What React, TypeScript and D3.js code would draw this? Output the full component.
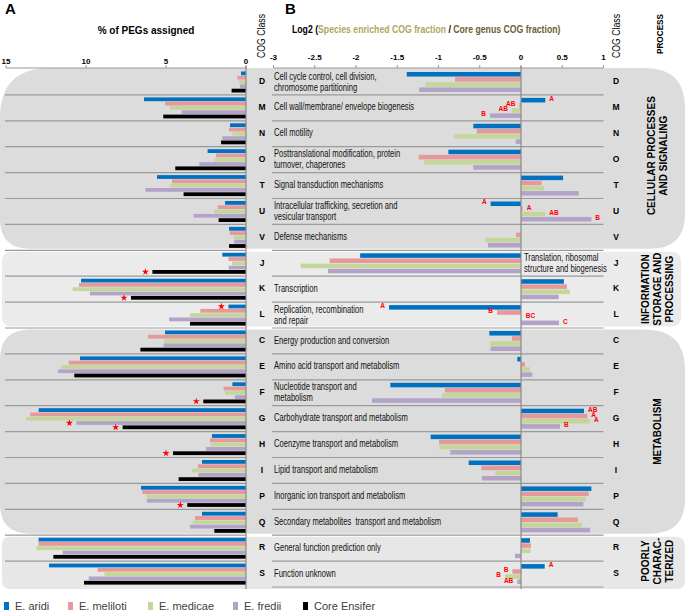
import React from "react";
import * as d3 from "d3";

const classes = ["D","M","N","O","T","U","V","J","K","L","C","E","F","G","H","I","P","Q","R","S"];
const descriptions: string[][] = [
  ["Cell cycle control, cell division,", "chromosome partitioning"],
  ["Cell wall/membrane/ envelope biogenesis"],
  ["Cell motility"],
  ["Posttranslational modification, protein", "turnover, chaperones"],
  ["Signal transduction mechanisms"],
  ["Intracellular trafficking, secretion and", "vesicular transport"],
  ["Defense mechanisms"],
  ["Translation, ribosomal", "structure and biogenesis"],
  ["Transcription"],
  ["Replication, recombination", "and repair"],
  ["Energy production and conversion"],
  ["Amino acid transport and metabolism"],
  ["Nucleotide transport and", "metabolism"],
  ["Carbohydrate transport and metabolism"],
  ["Coenzyme transport and metabolism"],
  ["Lipid transport and metabolism"],
  ["Inorganic ion transport and metabolism"],
  ["Secondary metabolites  transport and metabolism"],
  ["General function prediction only"],
  ["Function unknown"],
];
const seriesNames = ["E. aridi", "E. meliloti", "E. medicae", "E. fredii", "Core Ensifer"];
const seriesColors = ["#0070c0", "#e6999a", "#c4d79b", "#b4a3c9", "#000000"];

// Panel A: % of PEGs assigned
const pegAridi =    [0.31, 6.375, 1.0, 2.4, 5.56, 1.31, 1.06, 1.48, 10.31, 1.1, 5.06, 10.375, 0.85, 12.96, 2.125, 2.75, 6.56, 2.75, 12.96, 12.31];
const pegMeliloti = [0.54, 5.06, 1.06, 1.875, 4.625, 1.77, 1.0, 1.1, 10.44, 2.85, 6.125, 11.08, 1.4, 13.48, 2.25, 3.0, 6.48, 3.19, 12.96, 9.27];
const pegMedicae =  [0.42, 4.75, 0.85, 1.94, 4.73, 2.0, 0.75, 0.875, 10.83, 3.5, 5.1, 11.56, 1.31, 13.75, 2.21, 3.375, 6.21, 3.33, 13.1, 8.85];
const pegFredii =   [0.375, 4.02, 1.48, 2.92, 6.29, 3.27, 0.73, 1.08, 9.75, 4.81, 5.15, 11.75, 0.69, 10.6, 2.5, 2.98, 6.19, 3.5, 11.46, 9.83];
const pegCore =     [0.9, 5.17, 1.56, 4.42, 3.9, 1.71, 1.06, 5.85, 7.19, 3.5, 6.6, 10.73, 2.67, 7.71, 4.56, 4.21, 3.67, 1.98, 12.04, 10.125];

// Panel B: log2 ratios
const log2Aridi =    [-1.385, 0.295, -0.578, -0.88, 0.51, -0.368, 0, -1.95, 0.52, -1.6, -0.384, -0.045, -1.584, 0.764, -1.095, -0.634, 0.853, 0.444, 0.109, 0.287];
const log2Meliloti = [-0.8, -0.02, -0.537, -1.24, 0.25, 0.02, -0.06, -2.32, 0.557, -0.29, -0.109, 0.048, -0.921, 0.804, -0.994, -0.481, 0.82, 0.69, 0.121, -0.105];
const log2Medicae =  [-1.16, -0.11, -0.81, -1.175, 0.28, 0.295, -0.43, -2.67, 0.594, 0.01, -0.376, 0.109, -0.958, 0.836, -0.99, -0.311, 0.784, 0.74, 0.117, -0.194];
const log2Fredii =   [-1.236, -0.375, -0.065, -0.578, 0.7, 0.853, -0.4, -2.34, 0.457, 0.46, -0.368, 0.137, -1.806, 0.473, -0.857, -0.473, 0.756, 0.836, -0.073, -0.045];

const ticksA = [15, 10, 5, 0];
const ticksB = [-3, -2.5, -2, -1.5, -1, -0.5, 0, 0.5, 1];
const tickLabelsB = ["-3", "-2.5", "-2", "-1.5", "-1", "-0.5", "0", "0.5", "1"];

// significance asterisks in panel A: [class, series index]
const asterisks: [string, number][] = [["J", 4], ["K", 4], ["L", 0], ["F", 4], ["G", 3], ["G", 4], ["H", 4], ["P", 4]];
// group letters in panel B: [class, series index, letter]
const groupLetters: [string, number, string][] = [
  ["M", 0, "A"], ["M", 1, "AB"], ["M", 2, "AB"], ["M", 3, "B"],
  ["U", 0, "A"], ["U", 1, "A"], ["U", 2, "AB"], ["U", 3, "B"],
  ["L", 0, "A"], ["L", 1, "B"], ["L", 2, "BC"], ["L", 3, "C"],
  ["G", 0, "AB"], ["G", 1, "A"], ["G", 2, "A"], ["G", 3, "B"],
  ["S", 0, "A"], ["S", 1, "B"], ["S", 2, "B"], ["S", 3, "AB"],
];
const processNames = [["CELLULAR PROCESSES", "AND SIGNALING"], ["INFORMATION", "STORAGE AND", "PROCESSING"], ["METABOLISM"], ["POORLY", "CHARAC-", "TERIZED"]];
const processFirst = ["D", "J", "C", "R"];
const processLast = ["V", "L", "Q", "S"];

const pegSeries = [pegAridi, pegMeliloti, pegMedicae, pegFredii, pegCore];
const log2Series = [log2Aridi, log2Meliloti, log2Medicae, log2Fredii];

function rrect(x: number, y: number, w: number, h: number, tl: number, tr: number, br: number, bl: number) {
  return `M${x + tl},${y} H${x + w - tr} Q${x + w},${y} ${x + w},${y + tr} V${y + h - br} Q${x + w},${y + h} ${x + w - br},${y + h} H${x + bl} Q${x},${y + h} ${x},${y + h - bl} V${y + tl} Q${x},${y} ${x + tl},${y} Z`;
}

const FONT = "'Liberation Sans', Arial, sans-serif";

export default function App() {
  const W = 685, H = 611;
  const xA = d3.scaleLinear().domain([0, 15]).range([246, 6]);
  const xB = d3.scaleLinear().domain([-3, 1]).range([273.5, 603.5]);
  const yRow = d3.scaleBand<string>().domain(classes).range([69, 587]);
  const bw = yRow.bandwidth();
  const yA = d3.scaleBand<number>().domain(d3.range(5)).range([2.5, 23.5]).paddingInner(0.12);
  const yB = d3.scaleBand<number>().domain(d3.range(4)).range([3, 23]).paddingInner(0.12);
  const star = d3.symbol().type(d3.symbolStar).size(15)();

  const boxStyles = [
    { fill: "#dcdcdc", r: [50, 40, 35, 30], x0: 0, x1: 685 },
    { fill: "#ebebeb", r: [10, 10, 10, 10], x0: 2, x1: 681 },
    { fill: "#dcdcdc", r: [30, 40, 35, 30], x0: 0, x1: 685 },
    { fill: "#e7e7e7", r: [8, 10, 8, 8], x0: 2, x1: 685 },
  ];

  return (
    <svg width={W} height={H} style={{ position: "absolute", left: 0, top: 0, background: "#fff" }} fontFamily={FONT}>
      {/* process boxes */}
      {processFirst.map((f, i) => {
        const top = (yRow(f) as number) + (i === 0 ? -1 : 1.5);
        const bot = (yRow(processLast[i]) as number) + bw + (i === 3 ? 2 : -1.5);
        const s = boxStyles[i];
        return <path key={"box" + i} d={rrect(s.x0, top, s.x1 - s.x0, bot - top, s.r[0], s.r[1], s.r[2], s.r[3])} fill={s.fill} />;
      })}

      {/* separators */}
      {classes.slice(1).map((c) => (
        <g key={"sep" + c}>
          <line x1={5} x2={246} y1={yRow(c)} y2={yRow(c)} stroke="#9a9a9a" strokeWidth={1.2} />
          <line x1={272} x2={603.5} y1={yRow(c)} y2={yRow(c)} stroke="#9a9a9a" strokeWidth={1.2} />
        </g>
      ))}
      <line x1={272} x2={603.5} y1={587} y2={587} stroke="#9a9a9a" strokeWidth={1.2} />

      {/* panel A bars */}
      {pegSeries.map((arr, s) =>
        arr.map((v, i) => (
          <rect key={`a${s}-${i}`} x={xA(v)} width={xA(0) - xA(v)} y={(yRow(classes[i]) as number) + (yA(s) as number)} height={yA.bandwidth()} fill={seriesColors[s]} />
        ))
      )}
      {/* panel B bars */}
      {log2Series.map((arr, s) =>
        arr.map((v, i) => (
          <rect key={`b${s}-${i}`} x={Math.min(xB(0), xB(v))} width={Math.abs(xB(v) - xB(0))} y={(yRow(classes[i]) as number) + (yB(s) as number)} height={yB.bandwidth()} fill={seriesColors[s]} />
        ))
      )}

      {/* asterisks */}
      {asterisks.map(([c, s], k) => {
        const i = classes.indexOf(c);
        const v = pegSeries[s][i];
        const cy = (yRow(c) as number) + (yA(s) as number) + yA.bandwidth() / 2;
        return <path key={"ast" + k} d={star || ""} transform={`translate(${xA(v) - 7},${cy})`} fill="#ff0000" />;
      })}

      {/* group letters */}
      {groupLetters.map(([c, s, lab], k) => {
        const i = classes.indexOf(c);
        const v = log2Series[s][i];
        const cy = (yRow(c) as number) + (yB(s) as number) + yB.bandwidth() / 2;
        const pos = v >= 0;
        return (
          <text key={"gl" + k} x={xB(v) + (pos ? 4 : -4)} y={cy - 1} textAnchor={pos ? "start" : "end"} dominantBaseline="middle" fontSize={6.5} fontWeight="bold" fill="#ff0000">{lab}</text>
        );
      })}

      {/* axes */}
      <line x1={6} x2={246} y1={68} y2={68} stroke="#999" strokeWidth={1} />
      {ticksA.map((t) => (
        <g key={"ta" + t}>
          <line x1={xA(t)} x2={xA(t)} y1={65} y2={68} stroke="#999" />
          <text x={xA(t)} y={62} textAnchor="middle" dominantBaseline="middle" fontSize={8} fontWeight="bold">{t}</text>
        </g>
      ))}
      <line x1={246} x2={246} y1={66} y2={589} stroke="#8a8a8a" strokeWidth={1.2} />
      <line x1={273.5} x2={603.5} y1={68} y2={68} stroke="#999" strokeWidth={1} />
      {ticksB.map((t, k) => (
        <g key={"tb" + k}>
          <line x1={xB(t)} x2={xB(t)} y1={65} y2={68} stroke="#999" />
          <text x={xB(t)} y={57.5} textAnchor="middle" dominantBaseline="middle" fontSize={8} fontWeight="bold">{tickLabelsB[k]}</text>
        </g>
      ))}
      <line x1={xB(0)} x2={xB(0)} y1={66} y2={589} stroke="#8a8a8a" strokeWidth={1.2} />

      {/* COG class letters */}
      {classes.map((c) => {
        const cy = (yRow(c) as number) + bw / 2;
        return (
          <g key={"cl" + c}>
            <text x={262} y={cy} textAnchor="middle" dominantBaseline="middle" fontSize={8.5} fontWeight="bold">{c}</text>
            <text x={616} y={cy} textAnchor="middle" dominantBaseline="middle" fontSize={8.5} fontWeight="bold">{c}</text>
          </g>
        );
      })}

      {/* descriptions */}
      {descriptions.map((lines, i) => {
        const c = classes[i];
        const cy = (yRow(c) as number) + bw / 2;
        const x0 = c === "J" ? 524 : 274;
        return lines.map((ln, j) => {
          const dy = lines.length === 1 ? 0 : j === 0 ? -5 : 6;
          return (
            <text key={`d${i}-${j}`} transform={`translate(${x0},${cy + dy}) scale(0.76,1)`} dominantBaseline="middle" fontSize={10} fill="#111" style={{ whiteSpace: "pre" }}>{ln}</text>
          );
        });
      })}

      {/* titles */}
      <text x={5} y={14} fontSize={15} fontWeight="bold">A</text>
      <text x={285} y={14} fontSize={15} fontWeight="bold">B</text>
      <text x={146} y={31} textAnchor="middle" dominantBaseline="middle" fontSize={10} fontWeight="bold">% of PEGs assigned</text>
      <text transform="translate(292,31) scale(0.87,1)" dominantBaseline="middle" fontSize={10} fontWeight="bold" style={{ whiteSpace: "pre" }}>
        <tspan fill="#000">Log2 (</tspan><tspan fill="#b3a562">Species enriched COG fraction</tspan><tspan fill="#000"> / </tspan><tspan fill="#6b5e33">Core genus COG fraction)</tspan>
      </text>
      <text transform="translate(265,36) rotate(-90)" textAnchor="middle" fontSize={10} textLength={44} lengthAdjust="spacingAndGlyphs">COG Class</text>
      <text transform="translate(620,36) rotate(-90)" textAnchor="middle" fontSize={10} textLength={44} lengthAdjust="spacingAndGlyphs">COG Class</text>
      <text transform="translate(663,34) rotate(-90)" textAnchor="middle" fontSize={9} fontWeight="bold" textLength={40} lengthAdjust="spacingAndGlyphs">PROCESS</text>

      {/* process labels */}
      {processNames.map((lines, i) => {
        const top = yRow(processFirst[i]) as number;
        const bot = (yRow(processLast[i]) as number) + bw;
        const cy = (top + bot) / 2 + (i === 0 ? -4 : 0);
        const n = lines.length;
        return lines.map((ln, j) => {
          const cx = 657 + (j - (n - 1) / 2) * 12;
          return (
            <text key={`p${i}-${j}`} transform={`translate(${cx + 4},${cy}) rotate(-90)`} textAnchor="middle" fontSize={10} fontWeight="bold">{ln}</text>
          );
        });
      })}

      {/* legend */}
      {seriesNames.map((n, s) => {
        const lx = [4, 68, 148, 233, 303][s];
        return (
          <g key={"lg" + s}>
            <rect x={lx} y={602} width={5} height={8} fill={seriesColors[s]} />
            <text x={lx + 11} y={610} fontSize={11} fill="#404040">{n}</text>
          </g>
        );
      })}
    </svg>
  );
}
